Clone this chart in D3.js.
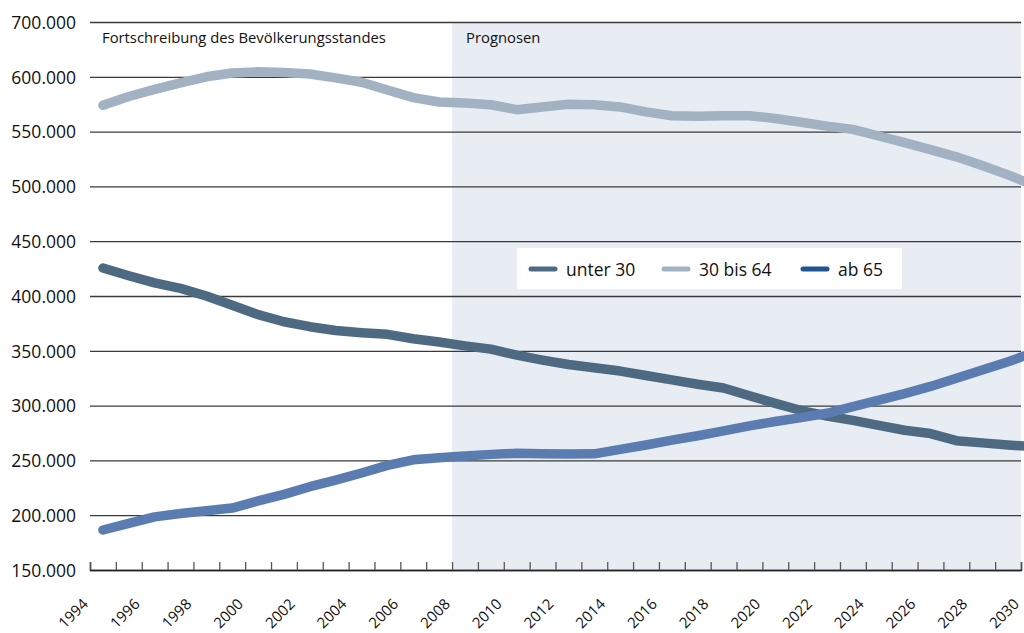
<!DOCTYPE html>
<html lang="de">
<head>
<meta charset="UTF-8">
<title>Bevölkerung nach Altersgruppen</title>
<style>
  body { margin: 0; padding: 0; background: #fff; overflow: hidden; }
  svg text { font-family: "Open Sans", "DejaVu Sans", sans-serif; fill: #111; }
</style>
</head>
<body>
<svg id="chart" width="1024" height="633"></svg>
<script src="https://d3js.org/d3.v7.min.js"></script>
<script>
// values in thousands, one per year
const years = d3.range(1994, 2031);
const under30 = [425.5, 418.5, 412, 407, 400, 391.5, 383, 376.5, 372, 368.5,
  366.5, 365, 361, 358, 354.5, 351.5, 346, 341.5, 337.5, 334.5,
  331.5, 327.5, 323.5, 319.5, 316, 309, 302, 295.5, 290.5, 286.5,
  282, 277.5, 274.5, 268, 266, 264, 262.5];
const from30to64 = [574, 582, 588.5, 594.5, 600, 603.5, 604.5, 604, 602.5, 599,
  595, 588, 581, 577, 576, 574.5, 570, 572.5, 575, 574.5,
  572.5, 568, 564.5, 564, 564.5, 564.5, 562, 558.5, 555, 552,
  546, 540, 533.5, 527, 519, 510.5, 501];
const from65 = [186.5, 192.5, 198.5, 201.5, 204, 206.5, 213, 219, 226, 232,
  238.5, 245.5, 250.5, 252.5, 254, 255.5, 256.5, 256, 255.8, 256,
  260, 264, 268.5, 272.5, 277, 281.5, 285.5, 289, 293, 299,
  305, 311, 317.5, 325, 332.5, 340, 348.5];

const seriesNames = ["unter 30", "30 bis 64", "ab 65"];
const lineColors = ["#4e6a82", "#a2b2c2", "#5a7cb0"];
const legendColors = ["#4e6a82", "#a2b2c2", "#1f5590"];

const yTicks = [150, 200, 250, 300, 350, 400, 450, 500, 550, 600, 650];
const yTickLabels = ["150.000", "200.000", "250.000", "300.000", "350.000", "400.000",
  "450.000", "500.000", "550.000", "600.000", "700.000"];
const xLabelYears = d3.range(1994, 2031, 2);
const forecastStart = 2008;

const svg = d3.select("#chart");
const mLeft = 90, mRight = 1021, mTop = 22, mBottom = 570;

const x = d3.scaleLinear().domain([1994, 2030]).range([mLeft, mRight]);
const y = d3.scaleLinear().domain([150, 650]).range([mBottom, mTop]);

// forecast background
svg.append("rect")
  .attr("x", x(forecastStart)).attr("y", mTop)
  .attr("width", mRight - x(forecastStart)).attr("height", mBottom - mTop)
  .attr("fill", "#e8edf4");

// gridlines + y labels
const yAxis = d3.axisLeft(y).tickValues(yTicks)
  .tickSize(-(mRight - mLeft)).tickPadding(14)
  .tickFormat((d, i) => yTickLabels[i]);
const gy = svg.append("g").attr("transform", `translate(${mLeft},0)`).call(yAxis);
gy.select(".domain").remove();
gy.selectAll(".tick line").attr("stroke", "#3a3a3a").attr("stroke-width", 1.3);
gy.selectAll(".tick text").attr("font-size", 17.5).attr("fill", "#111")
  .attr("font-family", "'Open Sans', sans-serif").attr("dy", "0.36em");

// x axis
const xAxis = d3.axisBottom(x).tickValues(years).tickSize(-8).tickFormat("");
const gx = svg.append("g").attr("transform", `translate(0,${mBottom})`).call(xAxis);
gx.select(".domain").attr("stroke", "#222").attr("stroke-width", 1.5);
gx.selectAll(".tick line").attr("stroke", "#555").attr("stroke-width", 1.3);

svg.append("g").selectAll("text")
  .data(xLabelYears).enter().append("text")
  .attr("transform", d => `translate(${x(d) - 1},${mBottom + 35}) rotate(-45)`)
  .attr("text-anchor", "end")
  .attr("font-family", "'Liberation Sans Narrow', 'DejaVu Sans Condensed', sans-serif")
  .attr("font-size", 15)
  .text(d => d);

// section labels
svg.append("text").attr("x", 102).attr("y", 43).attr("font-size", 14.8)
  .text("Fortschreibung des Bevölkerungsstandes");
svg.append("text").attr("x", x(forecastStart) + 14).attr("y", 43).attr("font-size", 14.8)
  .text("Prognosen");

// lines, points centred in each year
const line = d3.line().x((d, i) => x(years[i] + 0.5)).y(d => y(d));
const seriesValues = [under30, from30to64, from65];
seriesValues.forEach(function(vals, k) {
  svg.append("path")
    .attr("d", line(vals))
    .attr("fill", "none")
    .attr("stroke", lineColors[k])
    .attr("stroke-width", 9.5)
    .attr("stroke-linecap", "round")
    .attr("stroke-linejoin", "round");
});

// legend
const legend = svg.append("g");
legend.append("rect").attr("x", 517).attr("y", 248).attr("width", 385).attr("height", 41)
  .attr("fill", "#fff");
const legendX = [531, 664, 803];
seriesNames.forEach(function(name, k) {
  legend.append("line")
    .attr("x1", legendX[k]).attr("x2", legendX[k] + 24)
    .attr("y1", 269).attr("y2", 269)
    .attr("stroke", legendColors[k]).attr("stroke-width", 5)
    .attr("stroke-linecap", "round");
  legend.append("text")
    .attr("x", legendX[k] + 35).attr("y", 275.5)
    .attr("font-size", 17.5)
    .text(name);
});
</script>
</body>
</html>
